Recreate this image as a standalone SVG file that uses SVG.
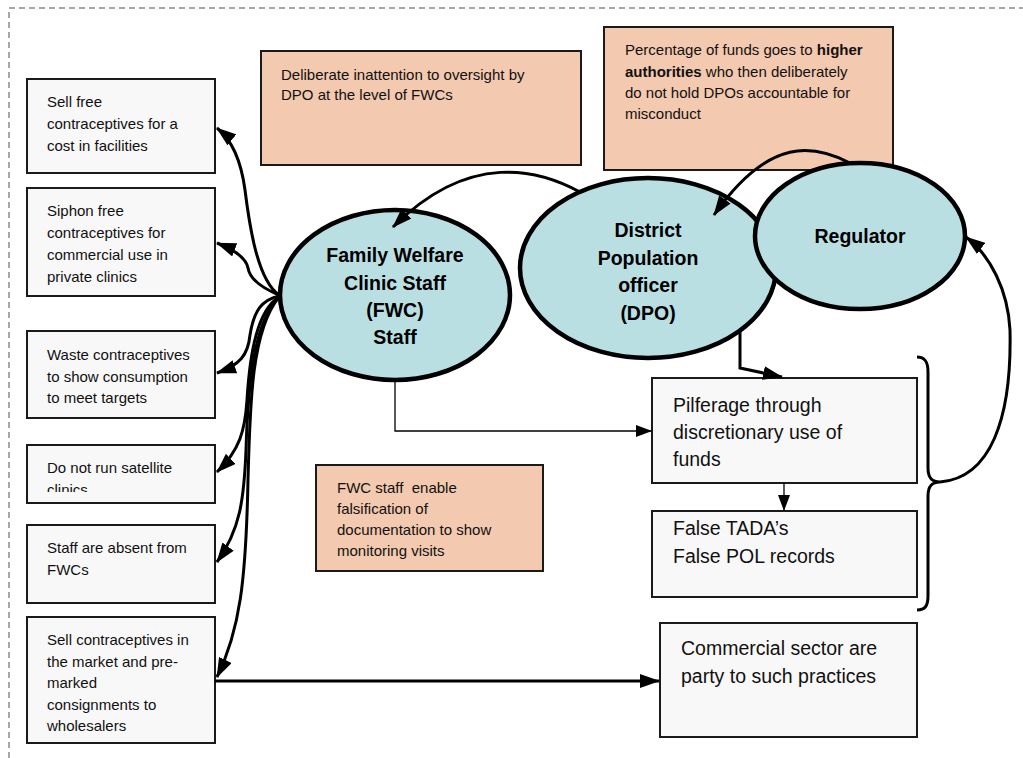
<svg xmlns="http://www.w3.org/2000/svg" width="1023" height="758" viewBox="0 0 1023 758">
  <style>
    .box { fill: #f8f8f8; stroke: #1a1a1a; stroke-width: 2; }
    .note { fill: #f3c9af; stroke: #1a1a1a; stroke-width: 2; }
    .oval { fill: #b9dfe3; stroke: #000; stroke-width: 4.5; }
    .t { font-family: "Liberation Sans", Arial, sans-serif; font-size: 15px; fill: #111; white-space: pre; }
    .tl { font-family: "Liberation Sans", Arial, sans-serif; font-size: 19.5px; fill: #111; }
    .tb { font-family: "Liberation Sans", Arial, sans-serif; font-size: 19.5px; font-weight: bold; fill: #000; text-anchor: middle; }
    .c { fill: none; stroke: #000; stroke-width: 3; }
    .thin { fill: none; stroke: #000; stroke-width: 1.3; }
  </style>
  <defs>
    <marker id="ah" viewBox="0 0 20 14" refX="19" refY="7" markerWidth="20" markerHeight="14" markerUnits="userSpaceOnUse" orient="auto">
      <path d="M0,0 L20,7 L0,14 z" fill="#000"/>
    </marker>
    <marker id="ahs" viewBox="0 0 16 12" refX="15" refY="6" markerWidth="16" markerHeight="12" markerUnits="userSpaceOnUse" orient="auto">
      <path d="M0,0 L16,6 L0,12 z" fill="#000"/>
    </marker>
    <clipPath id="clip4"><rect x="27" y="445" width="188" height="47"/></clipPath>
  </defs>

  <!-- page frame -->
  <path d="M9 758 V8 H1023" fill="none" stroke="#8a8a8a" stroke-width="1.5" stroke-dasharray="6 4"/>

  <!-- annotation notes -->
  <g id="note-oversight">
    <rect class="note" x="261" y="51" width="320" height="114"/>
    <text class="t" x="281" y="80">Deliberate inattention to oversight by</text>
    <text class="t" x="281" y="100">DPO at the level of FWCs</text>
  </g>
  <g id="note-funds">
    <rect class="note" x="604" y="27" width="289" height="143"/>
    <text class="t" x="625" y="55">Percentage of funds goes to <tspan font-weight="bold">higher</tspan></text>
    <text class="t" x="625" y="77"><tspan font-weight="bold">authorities</tspan> who then deliberately</text>
    <text class="t" x="625" y="98">do not hold DPOs accountable for</text>
    <text class="t" x="625" y="119">misconduct</text>
  </g>
  <g id="note-falsification">
    <rect class="note" x="316" y="465" width="227" height="106"/>
    <text class="t" x="337" y="493">FWC staff  enable</text>
    <text class="t" x="337" y="514">falsification of</text>
    <text class="t" x="337" y="535">documentation to show</text>
    <text class="t" x="337" y="556">monitoring visits</text>
  </g>

  <!-- practice boxes -->
  <g id="box-sell-free">
    <rect class="box" x="27" y="79" width="188" height="94"/>
    <text class="t" x="47" y="107">Sell free</text>
    <text class="t" x="47" y="129">contraceptives for a</text>
    <text class="t" x="47" y="151">cost in facilities</text>
  </g>
  <g id="box-siphon">
    <rect class="box" x="27" y="188" width="188" height="108"/>
    <text class="t" x="47" y="216">Siphon free</text>
    <text class="t" x="47" y="238">contraceptives for</text>
    <text class="t" x="47" y="260">commercial use in</text>
    <text class="t" x="47" y="282">private clinics</text>
  </g>
  <g id="box-waste">
    <rect class="box" x="27" y="331" width="188" height="87"/>
    <text class="t" x="47" y="360">Waste contraceptives</text>
    <text class="t" x="47" y="382">to show consumption</text>
    <text class="t" x="47" y="403">to meet targets</text>
  </g>
  <g id="box-satellite">
    <rect class="box" x="27" y="445" width="188" height="58"/>
    <text class="t" x="47" y="473">Do not run satellite</text>
    <text class="t" x="47" y="495" clip-path="url(#clip4)">clinics</text>
  </g>
  <g id="box-absent">
    <rect class="box" x="27" y="525" width="188" height="78"/>
    <text class="t" x="47" y="553">Staff are absent from</text>
    <text class="t" x="47" y="575">FWCs</text>
  </g>
  <g id="box-market">
    <rect class="box" x="27" y="617" width="188" height="126"/>
    <text class="t" x="47" y="645">Sell contraceptives in</text>
    <text class="t" x="47" y="667">the market and pre-</text>
    <text class="t" x="47" y="688">marked</text>
    <text class="t" x="47" y="710">consignments to</text>
    <text class="t" x="47" y="731">wholesalers</text>
  </g>

  <g id="box-pilferage">
    <rect class="box" x="652" y="378" width="265" height="105"/>
    <text class="tl" x="673" y="412">Pilferage through</text>
    <text class="tl" x="673" y="439">discretionary use of</text>
    <text class="tl" x="673" y="466">funds</text>
  </g>
  <g id="box-false-records">
    <rect class="box" x="652" y="511" width="265" height="86"/>
    <text class="tl" x="673" y="535">False TADA’s</text>
    <text class="tl" x="673" y="563">False POL records</text>
  </g>
  <g id="box-commercial">
    <rect class="box" x="660" y="623" width="257" height="114"/>
    <text class="tl" x="681" y="655">Commercial sector are</text>
    <text class="tl" x="681" y="683">party to such practices</text>
  </g>

  <!-- actors -->
  <g id="node-fwc">
    <ellipse class="oval" cx="395" cy="295" rx="115" ry="85"/>
    <text class="tb" x="395" y="262">Family Welfare</text>
    <text class="tb" x="395" y="290">Clinic Staff</text>
    <text class="tb" x="395" y="317">(FWC)</text>
    <text class="tb" x="395" y="344">Staff</text>
  </g>
  <g id="node-dpo">
    <ellipse class="oval" cx="648" cy="268" rx="128" ry="90"/>
    <text class="tb" x="648" y="237">District</text>
    <text class="tb" x="648" y="265">Population</text>
    <text class="tb" x="648" y="292">officer</text>
    <text class="tb" x="648" y="320">(DPO)</text>
  </g>
  <g id="node-regulator">
    <ellipse class="oval" cx="860" cy="236" rx="105" ry="73"/>
    <text class="tb" x="860" y="243">Regulator</text>
  </g>

  <!-- connectors -->
  <g id="connectors">
    <path class="c" d="M580 192 C540 170 470 150 393 227" marker-end="url(#ah)"/>
    <path class="c" d="M850 163 C815 145 770 135 714 215" marker-end="url(#ah)"/>
    <path class="c" d="M917 357 C925 357 928 362 928 372 L928 468 C928 478 932 482 940 482 C932 482 928 486 928 496 L928 596 C928 606 925 610 917 610"/>
    <path class="c" d="M940 482 C990 478 1012 420 1010 330 C1008 290 990 255 966 237" marker-end="url(#ah)"/>
    <path class="c" d="M740 331 V368 L782 377" marker-end="url(#ah)"/>
    <path class="thin" d="M395 380 V431 H651" marker-end="url(#ahs)"/>
    <path class="thin" d="M784 483 V510" marker-end="url(#ahs)"/>
    <path class="c" d="M215 681 H659" marker-end="url(#ah)"/>

    <path class="c" d="M279 295 C258 280 250 230 245 190 C241 160 232 140 217 128" marker-end="url(#ah)"/>
    <path class="c" d="M279 295 C262 288 250 280 248 268 C246 258 235 250 217 243" marker-end="url(#ah)"/>
    <path class="c" d="M279 296 C262 300 254 310 250 335 C248 355 240 365 217 373" marker-end="url(#ah)"/>
    <path class="c" d="M279 297 C258 310 250 350 247 400 C245 430 240 450 217 472" marker-end="url(#ah)"/>
    <path class="c" d="M279 297 C255 320 248 380 246 450 C244 500 240 530 217 562" marker-end="url(#ah)"/>
    <path class="c" d="M279 297 C252 330 250 400 248 480 C246 580 240 630 217 677" marker-end="url(#ah)"/>
  </g>
</svg>
